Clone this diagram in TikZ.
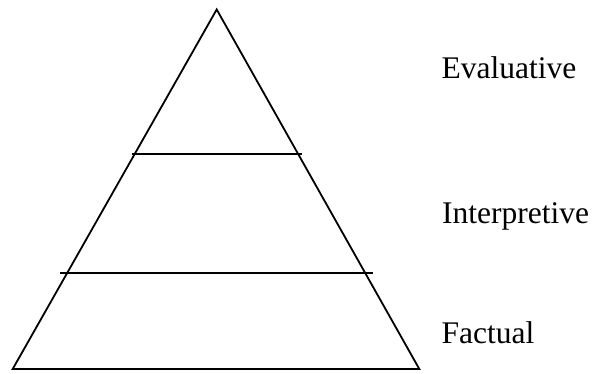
\documentclass[tikz,border=0pt]{standalone}
\usepackage{fontspec}
\setmainfont{Liberation Serif}
\begin{document}
\begin{tikzpicture}[x=1pt,y=-1pt,
  edge/.style={line width=1.8pt,line join=miter},
  lbl/.style={inner sep=0pt,anchor=base west,font=\fontsize{31.5}{36}\selectfont}]
\useasboundingbox (0,0) rectangle (592,374);
\coordinate (apex) at (216.7,9.5);
\coordinate (bl) at (12.7,369);
\coordinate (br) at (419.3,369);
\draw[edge] (apex) -- (bl) -- (br) -- cycle;
\coordinate (l1a) at (132,153.7);
\coordinate (l1b) at (302,153.7);
\coordinate (l2a) at (60,273.3);
\coordinate (l2b) at (373,273.3);
\draw[edge] (l1a) -- (l1b);
\draw[edge] (l2a) -- (l2b);
\node[lbl] (eval) at (441.5,79) {Evaluative};
\node[lbl] (interp) at (442,224) {Interpretive};
\node[lbl] (fact) at (441.5,343) {Factual};
\end{tikzpicture}
\end{document}
